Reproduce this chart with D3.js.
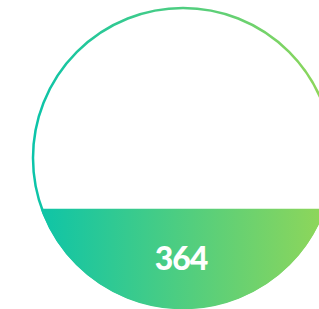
<!DOCTYPE html>
<html>
<head>
<meta charset="utf-8">
<script src="https://cdn.jsdelivr.net/npm/d3@7"></script>
<style>
  html, body { margin: 0; padding: 0; background: #fff; }
</style>
</head>
<body>
<div id="gauge"></div>
<script>
// gauge data
var gaugeValue = 364;
var gaugeMax = 1100;
var gradientStops = ["#0bc4a9", "#93d757"];

var width = 319, height = 309;
var cx = 183, cy = 158, radius = 150;

var svg = d3.select('#gauge')
    .append("svg")
    .attr("width", width)
    .attr("height", height)

// horizontal gradient across the whole circle
var defs = svg.append("defs");
var grad = defs.append("linearGradient")
    .attr("id", "gaugeGrad")
    .attr("gradientUnits", "userSpaceOnUse")
    .attr("x1", cx - radius).attr("x2", cx + radius)
    .attr("y1", 0).attr("y2", 0);

grad.selectAll("stop")
    .data(gradientStops)
    .enter()
    .append("stop")
    .attr("offset", (d, i) => i / (gradientStops.length - 1))
    .attr("stop-color", d => d);

// level scale
var levelScale = d3.scaleLinear()
    .domain([0, gaugeMax])
    .range([cy + radius, cy - radius]);

var level = levelScale(gaugeValue);

// clip for the filled part
defs.append("clipPath")
    .attr("id", "fillClip")
    .append("rect")
    .attr("x", cx - radius - 2)
    .attr("y", level)
    .attr("width", radius * 2 + 4)
    .attr("height", cy + radius - level + 2);

// outer ring
svg.append("circle")
    .attr("cx", cx)
    .attr("cy", cy)
    .attr("r", radius)
    .attr("fill", "none")
    .attr("stroke", "url(#gaugeGrad)")
    .attr("stroke-width", 2.5);

// filled part
svg.append("circle")
    .attr("cx", cx)
    .attr("cy", cy)
    .attr("r", radius + 1)
    .attr("fill", "url(#gaugeGrad)")
    .attr("clip-path", "url(#fillClip)");

// value label
svg.append("text")
    .attr("x", cx - 2)
    .attr("y", 270)
    .attr("text-anchor", "middle")
    .style("font-family", "Lato")
    .style("font-weight", "900")
    .style("font-size", "32px")
    .style("letter-spacing", "-1px")
    .style("fill", "#fff")
    .text(gaugeValue);
</script>
</body>
</html>
